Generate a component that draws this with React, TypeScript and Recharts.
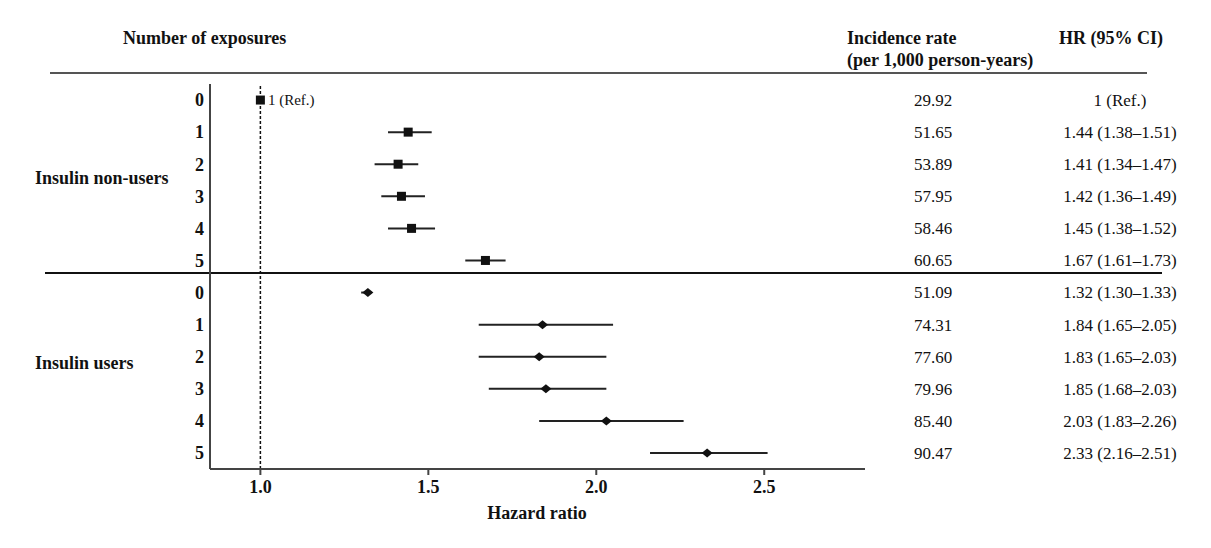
import React from 'react'
import {
  ScatterChart,
  Scatter,
  XAxis,
  YAxis,
  ErrorBar,
  ReferenceLine,
  LabelList,
} from 'recharts'

// exposures per group and the estimates read from the table
const exposures = ['0', '1', '2', '3', '4', '5']
const nonUserHR = [1, 1.44, 1.41, 1.42, 1.45, 1.67]
const nonUserLo = [1, 1.38, 1.34, 1.36, 1.38, 1.61]
const nonUserHi = [1, 1.51, 1.47, 1.49, 1.52, 1.73]
const nonUserRate = ['29.92', '51.65', '53.89', '57.95', '58.46', '60.65']
const userHR = [1.32, 1.84, 1.83, 1.85, 2.03, 2.33]
const userLo = [1.3, 1.65, 1.65, 1.68, 1.83, 2.16]
const userHi = [1.33, 2.05, 2.03, 2.03, 2.26, 2.51]
const userRate = ['51.09', '74.31', '77.60', '79.96', '85.40', '90.47']
const xTicks = [1.0, 1.5, 2.0, 2.5]

const FONT = '"Liberation Serif", "Times New Roman", serif'
const INK = '#111'

const hrText = (hr: number, lo: number, hi: number) =>
  `${hr.toFixed(2)} (${lo.toFixed(2)}–${hi.toFixed(2)})`

const nonUserRows = exposures.map((e, i) => ({
  y: i,
  x: nonUserHR[i],
  err: [nonUserHR[i] - nonUserLo[i], nonUserHi[i] - nonUserHR[i]],
  label: e,
  rate: nonUserRate[i],
  hr: i === 0 ? '1 (Ref.)' : hrText(nonUserHR[i], nonUserLo[i], nonUserHi[i]),
  refLabel: '1 (Ref.)',
}))

const userRows = exposures.map((e, i) => ({
  y: i + exposures.length,
  x: userHR[i],
  err: [userHR[i] - userLo[i], userHi[i] - userHR[i]],
  label: e,
  rate: userRate[i],
  hr: hrText(userHR[i], userLo[i], userHi[i]),
}))

const allRows = [...nonUserRows, ...userRows]
const refData = nonUserRows.slice(0, 1)
const nonUserData = nonUserRows.slice(1)

// eslint-disable-next-line @typescript-eslint/no-explicit-any
const RowTick = (props: any) => {
  const row = allRows[props.payload.value]
  if (!row) return null
  const y = props.y
  return (
    <g fontFamily={FONT} fill={INK}>
      <text x={204} y={y} dy="0.35em" textAnchor="end" fontSize={18} fontWeight="bold">
        {row.label}
      </text>
      <text x={914} y={y} dy="0.35em" textAnchor="start" fontSize={17}>
        {row.rate}
      </text>
      <text x={1120} y={y} dy="0.35em" textAnchor="middle" fontSize={17}>
        {row.hr}
      </text>
    </g>
  )
}

// eslint-disable-next-line @typescript-eslint/no-explicit-any
const Square = (p: any) => (
  <rect x={p.cx - 4.5} y={p.cy - 4.5} width={9} height={9} fill={INK} />
)

// eslint-disable-next-line @typescript-eslint/no-explicit-any
const Diamond = (p: any) => (
  <polygon
    points={`${p.cx - 5.5},${p.cy} ${p.cx},${p.cy - 4.5} ${p.cx + 5.5},${p.cy} ${p.cx},${p.cy + 4.5}`}
    fill={INK}
  />
)

const abs = (left: number, top: number, extra: React.CSSProperties = {}): React.CSSProperties => ({
  position: 'absolute',
  left,
  top,
  fontFamily: FONT,
  color: INK,
  fontSize: 18,
  fontWeight: 'bold',
  lineHeight: '20px',
  whiteSpace: 'nowrap',
  ...extra,
})

export default function App() {
  return (
    <div style={{ position: 'absolute', left: 0, top: 0, width: 1211, height: 548, background: '#fff' }}>
      <div style={abs(123, 28)}>Number of exposures</div>
      <div style={abs(847, 28)}>Incidence rate</div>
      <div style={abs(847, 50)}>(per 1,000 person-years)</div>
      <div style={abs(1059, 28)}>HR (95% CI)</div>
      <div style={{ position: 'absolute', left: 50, top: 72, width: 1097, height: 2, background: '#555' }} />
      <div style={{ position: 'absolute', left: 45, top: 272, width: 1117, height: 1.5, background: '#111' }} />
      <div style={abs(35, 168)}>Insulin non-users</div>
      <div style={abs(35, 353)}>Insulin users</div>
      <div style={abs(437, 503, { width: 200, textAlign: 'center' })}>Hazard ratio</div>

      <ScatterChart width={1211} height={548} margin={{ top: 84, right: 346, bottom: 39, left: 180 }}>
        <XAxis
          type="number"
          dataKey="x"
          domain={[0.85, 2.8]}
          ticks={xTicks}
          allowDataOverflow
          tickFormatter={(v: number) => v.toFixed(1)}
          tick={{ fontSize: 18, fontWeight: 'bold', fill: INK, fontFamily: FONT }}
          tickSize={6}
          tickMargin={5}
          height={40}
          stroke="#444"
          strokeWidth={2}
        />
        <YAxis
          type="number"
          dataKey="y"
          domain={[-0.5, 11.5]}
          ticks={allRows.map((r) => r.y)}
          interval={0}
          reversed
          width={30}
          tickLine={false}
          tick={<RowTick />}
          stroke="#444"
          strokeWidth={2}
        />
        <ReferenceLine x={1} stroke={INK} strokeWidth={1.5} strokeDasharray="3 2" />
        <Scatter data={refData} shape={Square} isAnimationActive={false}>
          <LabelList dataKey="refLabel" position="right" offset={3} fontSize={15} fill={INK} fontFamily={FONT} />
        </Scatter>
        <Scatter data={nonUserData} shape={Square} isAnimationActive={false}>
          <ErrorBar dataKey="err" direction="x" width={0} stroke="#222" strokeWidth={2} />
        </Scatter>
        <Scatter data={userRows} shape={Diamond} isAnimationActive={false}>
          <ErrorBar dataKey="err" direction="x" width={0} stroke="#222" strokeWidth={2} />
        </Scatter>
      </ScatterChart>
    </div>
  )
}
